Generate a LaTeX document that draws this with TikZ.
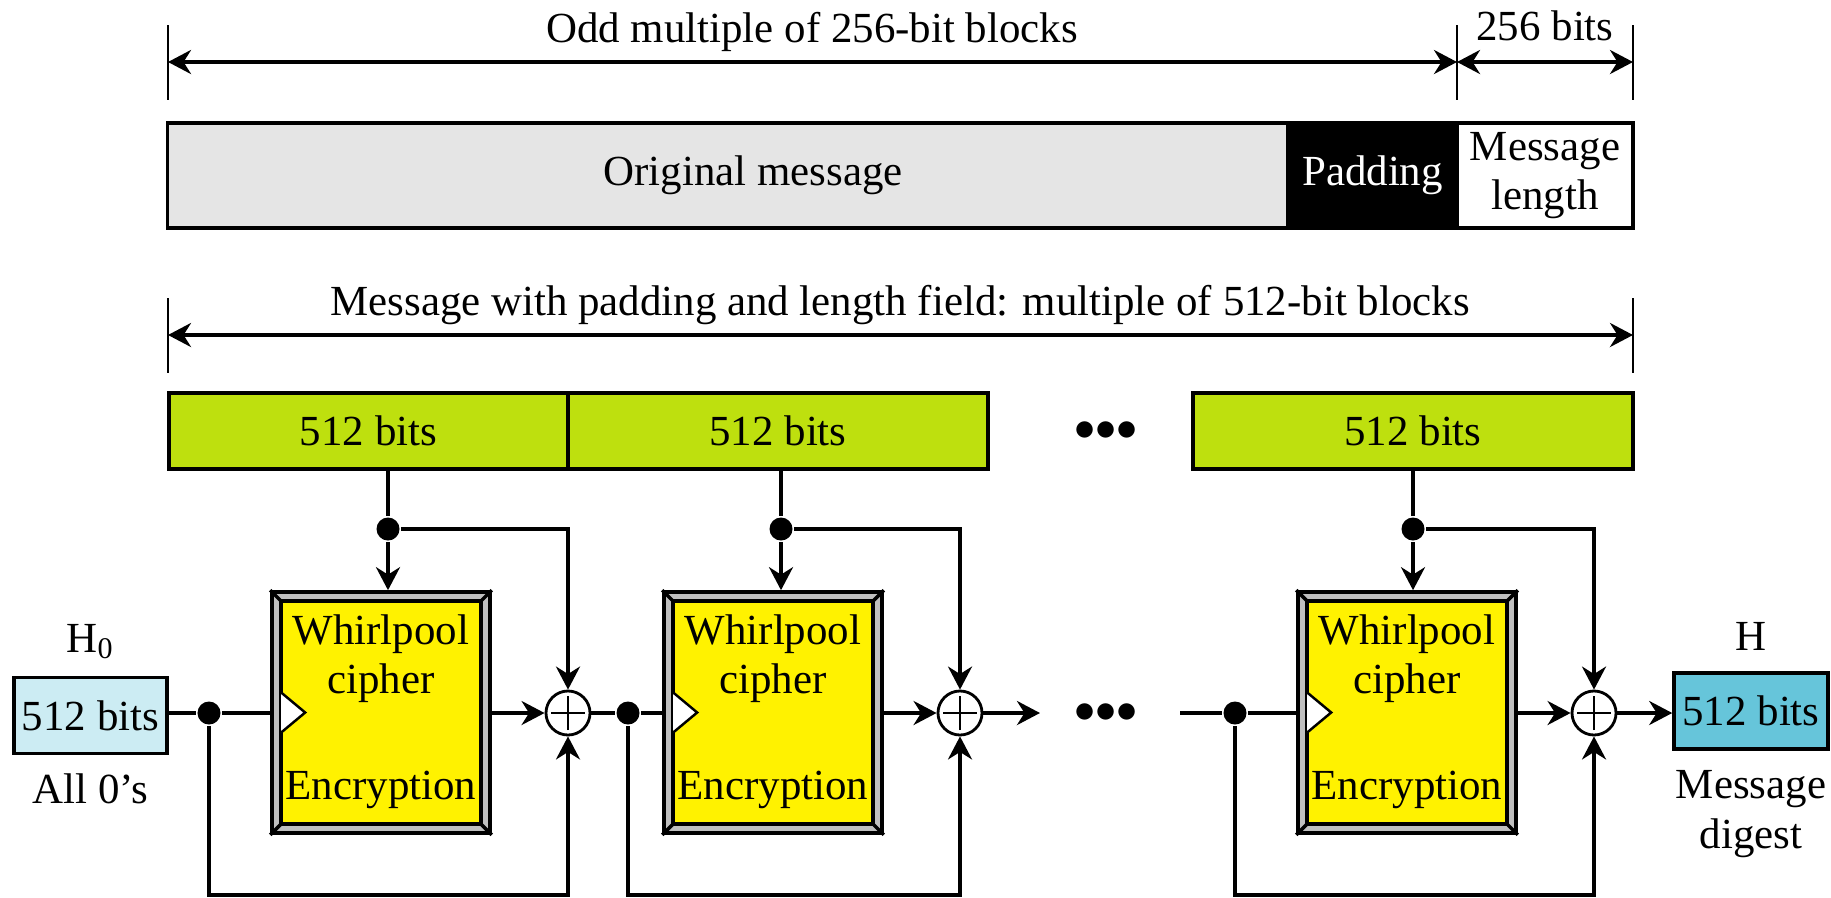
\documentclass[tikz,border=0pt]{standalone}
\usepackage{fontspec}
\setmainfont{Liberation Serif}
\usetikzlibrary{arrows.meta}
\definecolor{msggray}{RGB}{229,229,229}
\definecolor{blockgreen}{RGB}{190,224,14}
\definecolor{bevelgray}{RGB}{191,191,191}
\definecolor{inblue}{RGB}{204,236,243}
\definecolor{outblue}{RGB}{102,197,218}
\begin{document}
\begin{tikzpicture}[x=0.01cm, y=-0.01cm, line width=1pt,
  font=\fontsize{12.2}{14}\selectfont,
  arr/.style={-{Stealth[length=2.3mm,width=2.4mm]}},
  dimarr/.style={{Stealth[length=2.3mm,width=2.4mm]}-{Stealth[length=2.3mm,width=2.4mm]}},
  tick/.style={line width=0.7pt},
  field/.style={draw, minimum height=1.05cm, inner sep=0pt, align=center},
  block/.style={draw, fill=blockgreen, minimum height=0.76cm, inner sep=0pt},
  hbox/.style={draw, minimum width=1.53cm, minimum height=0.76cm, inner sep=0pt},
  cipher/.style={draw, fill=bevelgray, minimum width=2.18cm, minimum height=2.41cm, inner sep=0pt},
  xor/.style={circle, draw, fill=white, minimum size=0.44cm, inner sep=0pt, line width=0.8pt,
    path picture={\draw[line width=0.6pt] (path picture bounding box.center) ++(-0.17cm,0) -- ++(0.34cm,0)
      (path picture bounding box.center) ++(0,-0.17cm) -- ++(0,0.34cm);}},
  dot/.style={circle, fill, minimum size=0.23cm, inner sep=0pt}]
\useasboundingbox (0,0) rectangle (1831,897);

% padded message
\node[field, fill=msggray, minimum width=11.2cm] (om) at (728,175.5) {\hspace{0.5cm}Original message};
\node[field, fill=black, text=white, minimum width=1.69cm] (pd) at (1372.5,175.5) {Padding};
\node[field, fill=white, minimum width=1.76cm] (ml) at (1545,175.5) {Message\\length};

% dimension lines
\coordinate (a0) at (168,62); \coordinate (a1) at (1457,62); \coordinate (a2) at (1633,62);
\coordinate (m0) at (168,335); \coordinate (m1) at (1633,335);
\foreach \t in {a0,a1,a2,m0,m1} \draw[tick] (\t) ++(0,-37) -- ++(0,75);
\draw[dimarr] (a0) -- (a1);
\draw[dimarr] (a1) -- (a2);
\draw[dimarr] (m0) -- (m1);
\node[anchor=base] (odd) at (812,42) {Odd multiple of 256-bit blocks};
\node[anchor=base] (len) at (1545,41) {256 bits};
\node[anchor=base] (tot) at (900,315) {Message with padding and length field: multiple of 512-bit blocks};

% 512-bit blocks
\node[block, minimum width=3.99cm] (b1) at (368.5,431) {512 bits};
\node[block, minimum width=4.2cm] (b2) at (778,431) {512 bits};
\node[block, minimum width=4.4cm] (b3) at (1413,431) {512 bits};
\node (dots1) at (1106,431) {$\mathord{\bullet}\mathord{\bullet}\mathord{\bullet}$};

% initial and final hash
\node[hbox, fill=inblue] (h0) at (90.5,715.5) {512 bits};
\node[anchor=base] (h0lab) at (90.5,652) {H\textsubscript{0}};
\node[anchor=base] (zero) at (90.5,803) {All 0's};
\node[hbox, fill=outblue, minimum width=1.54cm] (h) at (1751,711) {512 bits};
\node[anchor=base] (hlab) at (1751,650) {H};
\node[align=center] (dig) at (1751,814) {Message\\digest};

% compression stages
\foreach \i/\cx/\tx/\xx/\jx in {1/381/388/568/209, 2/773/781/960/628, 3/1407/1413/1594/1235}{
  \node[cipher] (c\i) at (\cx,712.5) {};
  \draw[fill=yellow] ([shift={(11,11)}]c\i.north west) rectangle ([shift={(-11,-11)}]c\i.south east);
  \draw (c\i.north west) -- ++(11,11) (c\i.north east) -- ++(-11,11)
        (c\i.south west) -- ++(11,-11) (c\i.south east) -- ++(-11,-11);
  \draw[fill=white, line width=0.7pt] ([shift={(11,-20)}]c\i.west) -- ++(24,20) -- ++(-24,20);
  \node[align=center, inner sep=0pt] (w\i) at (\cx,659) {Whirlpool\\cipher};
  \node[anchor=base] (e\i) at (\cx,799) {Encryption};
  \node[dot] (t\i) at (\tx,529) {};
  \node[dot] (j\i) at (\jx,713) {};
  \node[xor] (x\i) at (\xx,713) {};
  \draw (b\i.south -| t\i) -- (t\i);
  \draw[arr] (t\i) -- (c\i.north -| t\i);
  \draw[arr] (t\i) -| (x\i);
  \draw[arr] (c\i.east |- x\i) -- (x\i);
  \draw (j\i) -- (c\i.west |- j\i);
  \draw[arr] (j\i) -- ++(0,182) -| (x\i);
}

% chaining
\coordinate (o2) at (1040,713); \coordinate (i3) at (1180,713);
\draw (h0.east |- j1) -- (j1);
\draw (x1) -- (j2);
\draw[arr] (x2) -- (o2);
\node (dots2) at (1106,713) {$\mathord{\bullet}\mathord{\bullet}\mathord{\bullet}$};
\draw (i3) -- (j3);
\draw[arr] (x3) -- (h.west |- x3);
\end{tikzpicture}
\end{document}
